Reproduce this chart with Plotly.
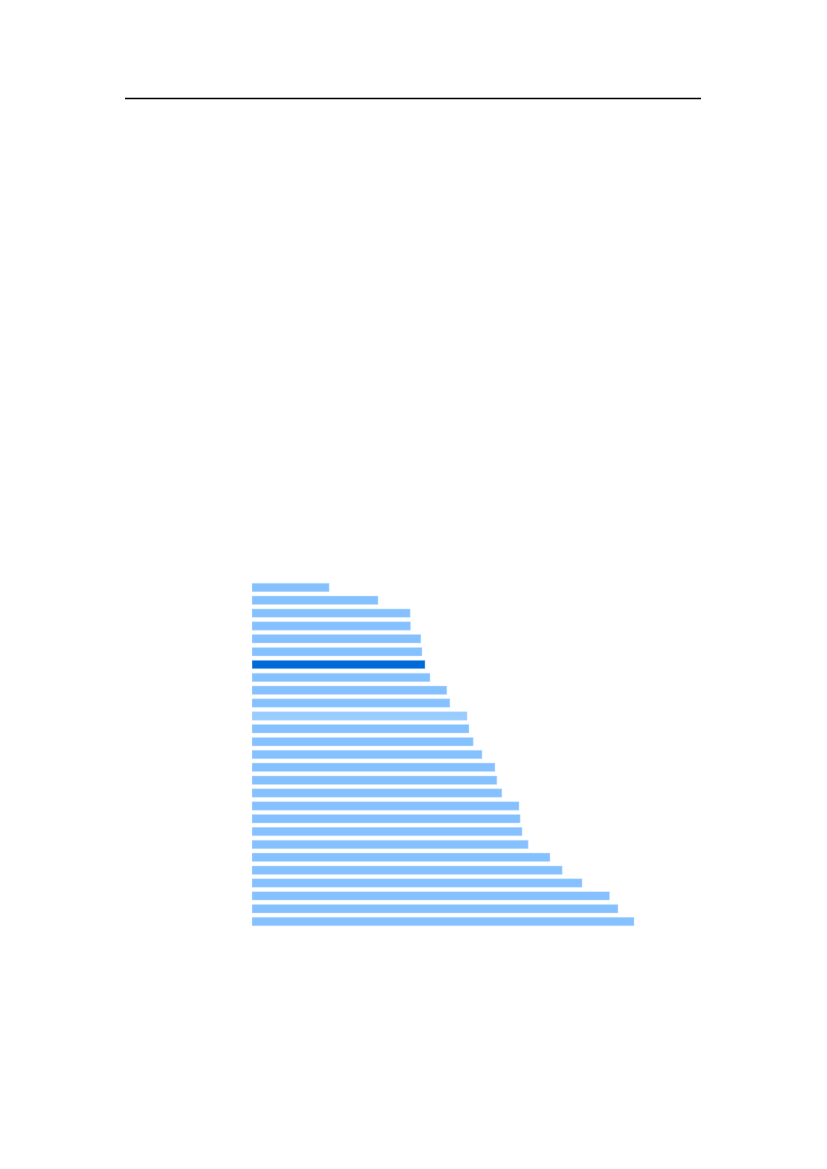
import plotly.graph_objects as go

categories = [f"Item {i}" for i in range(1, 28)]
values = [20.2, 33.0, 41.4, 41.5, 44.2, 44.5, 45.3, 46.6, 51.0, 51.8,
          56.3, 56.8, 57.9, 60.2, 63.6, 64.1, 65.4, 69.9, 70.2, 70.7,
          72.3, 78.0, 81.2, 86.4, 93.6, 95.8, 100.0]
highlight_index = 6
lighter_index = 10

BASE = "#85c1ff"
HIGHLIGHT = "#006ad6"
LIGHTER = "#99ccff"
colors = []
for i in range(len(values)):
    if i == highlight_index:
        colors.append(HIGHLIGHT)
    elif i == lighter_index:
        colors.append(LIGHTER)
    else:
        colors.append(BASE)

fig = go.Figure(go.Bar(
    x=values, y=categories, orientation="h",
    marker=dict(color=colors, line=dict(color="rgba(200,225,255,0.8)", width=0.6)),
    hoverinfo="x+y",
))

W, H = 827, 1169
OFF = 8  # page body offset
left, right_px = 252 - OFF, 701 - OFF
top, bottom = 580.9 - OFF, 928.2 - OFF
plot_h = bottom - top
plot_w = right_px - left

fig.update_layout(
    width=W, height=H,
    margin=dict(l=left, r=W - right_px, t=top, b=H - bottom, pad=0),
    plot_bgcolor="white", paper_bgcolor="white",
    bargap=0.34, showlegend=False,
    xaxis=dict(range=[0, 100 * plot_w / 382], visible=False, fixedrange=True),
    yaxis=dict(autorange="reversed", showticklabels=False, showgrid=False,
               zeroline=False, showline=False, ticks=""),
)

line_y = 98 - OFF
fig.add_shape(type="line", xref="paper", yref="paper",
              x0=(125 - OFF - left) / plot_w, x1=1.0,
              y0=(bottom - line_y) / plot_h, y1=(bottom - line_y) / plot_h,
              line=dict(color="black", width=1.3))

fig.write_html("out.html")
